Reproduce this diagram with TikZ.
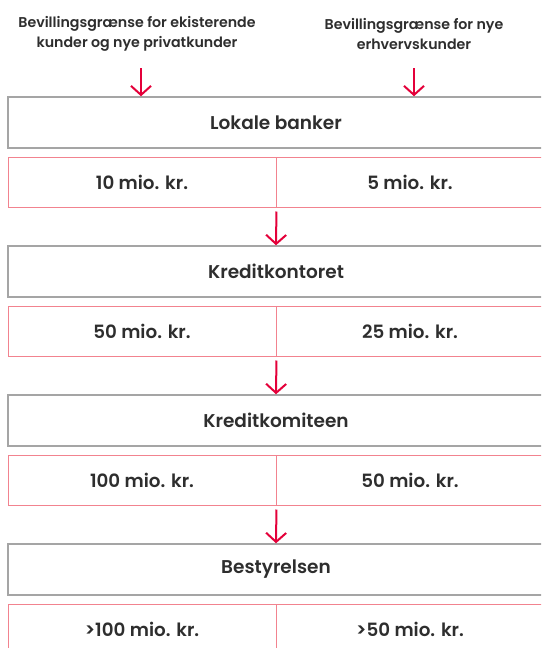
\documentclass[tikz,border=0pt]{standalone}
\usepackage{fontspec}
\setmainfont{Poppins}[BoldFont={Poppins SemiBold}]
\usetikzlibrary{arrows.meta}
\definecolor{grayline}{HTML}{A5A5A5}
\definecolor{pinkline}{HTML}{F2838F}
\definecolor{arrowred}{HTML}{E4003A}
\definecolor{txt}{HTML}{2E2E2E}
\tikzset{
  graybox/.style={draw=grayline, line width=1.5pt, minimum width=536pt, minimum height=51pt, inner sep=0pt, text=txt, font=\fontsize{18.5}{22}\selectfont\bfseries},
  pinkcell/.style={draw=pinkline, line width=1pt, minimum width=268pt, minimum height=50pt, inner sep=0pt, text=txt, font=\fontsize{18.3}{22}\selectfont\bfseries},
  header/.style={align=center, text=txt, font=\fontsize{14.2}{20}\selectfont\bfseries},
  arr/.style={draw=arrowred, line width=2pt, -{Straight Barb[length=9pt,width=20pt,line width=2pt]}}
}
\begin{document}
\begin{tikzpicture}[x=1pt,y=-1pt]
\clip (0,0) rectangle (541,648);
\fill[white] (0,0) rectangle (541,648);
\node[header] (h1) at (137,34) {Bevillingsgrænse for ekisterende\\kunder og nye privatkunder};
\node[header] (h2) at (414,34) {Bevillingsgrænse for nye\\erhvervskunder};
\coordinate (t1) at (141,68);
\coordinate (t2) at (414,68);
% group 1
\node[graybox] (g1) at (276,122.5) {Lokale banker};
\node[pinkcell] (p1l) at (142,182) {10 mio. kr.};
\node[pinkcell] (p1r) at (410,182) {5 mio. kr.};
% group 2
\node[graybox] (g2) at (276,271.5) {Kreditkontoret};
\node[pinkcell] (p2l) at (142,331) {50 mio. kr.};
\node[pinkcell] (p2r) at (410,331) {25 mio. kr.};
% group 3
\node[graybox] (g3) at (276,420.5) {Kreditkomiteen};
\node[pinkcell] (p3l) at (142,480) {100 mio. kr.};
\node[pinkcell] (p3r) at (410,480) {50 mio. kr.};
% group 4
\node[graybox] (g4) at (276,569.5) {Bestyrelsen};
\node[pinkcell] (p4l) at (142,629) {>100 mio. kr.};
\node[pinkcell] (p4r) at (410,629) {>50 mio. kr.};
% arrows
\draw[arr] (t1) -- (t1 |- g1.north);
\draw[arr] (t2) -- (t2 |- g1.north);
\draw[arr, shorten <=4pt] (p1l.south east) -- (g2.north);
\draw[arr, shorten <=4pt] (p2l.south east) -- (g3.north);
\draw[arr, shorten <=4pt] (p3l.south east) -- (g4.north);
\end{tikzpicture}
\end{document}
